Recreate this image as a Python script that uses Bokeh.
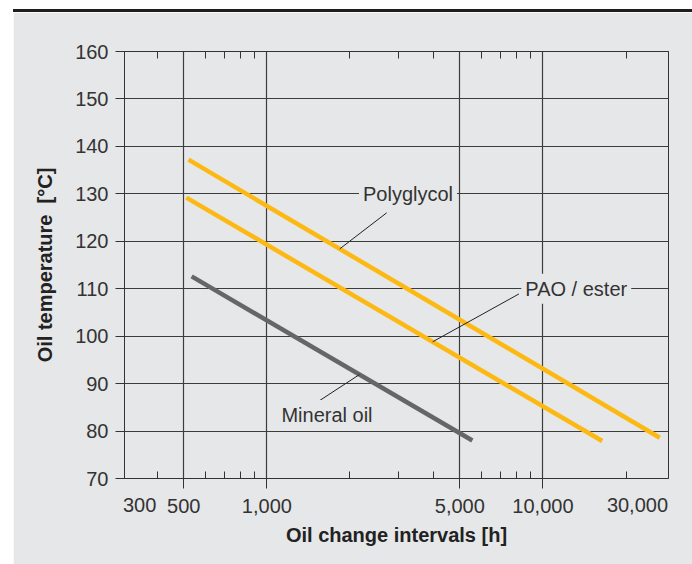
import numpy as np
from bokeh.plotting import figure
from bokeh.models import FixedTicker, LogAxis, Label, Range1d, Div, NumeralTickFormatter
from bokeh.layouts import column
from bokeh.embed import file_html
from bokeh.resources import INLINE

# ---------------- data ----------------
x_major_ticks = [500, 1000, 5000, 10000]
x_minor_ticks = [400, 600, 700, 800, 900, 2000, 3000, 4000, 6000, 7000, 8000, 9000, 20000]
x_edge_ticks = [300, 30000]
x_edge_labels = ["300", "30,000"]
y_ticks = [70, 80, 90, 100, 110, 120, 130, 140, 150, 160]

series_names = ["Polyglycol", "PAO / ester", "Mineral oil"]
polyglycol_hours = [520, 26500]
polyglycol_temp = [137.2, 78.6]
pao_hours = [511, 16400]
pao_temp = [129.2, 77.9]
mineral_hours = [534, 5550]
mineral_temp = [112.6, 78.0]

# annotation anchors: label position, leader start, leader target hours
label_hours = [3245, 8350, 1092]
label_temp = [130.0, 110.0, 83.4]
leader_start_hours = [2717, 8186, 1532]
leader_start_temp = [126.0, 108.9, 86.2]
leader_target_hours = [1836, 3986, 2165]

# ---------------- styles / layout ----------------
BG = "#e6e7e8"
ORANGE = "#fdb913"
GRAY_LINE = "#666666"
DARK = "#333333"
TEXT = "#333333"
FONT = "Liberation Sans"
FS = "20px"
# where the end labels "300" / "30,000" are centred (they sit inside the frame ends)
EDGE_LABEL_AT = {300: 346, 30000: 22000}

p = figure(width=679, height=552, x_axis_type="log",
           x_range=Range1d(305, 28500), y_range=Range1d(70, 160),
           output_backend="svg", toolbar_location=None,
           min_border_left=111, min_border_right=24, min_border_top=39, min_border_bottom=86,
           background_fill_color=BG, border_fill_color=BG, margin=(0, 0, 0, 13))

xt = FixedTicker(ticks=x_major_ticks, minor_ticks=x_minor_ticks)
yt = FixedTicker(ticks=y_ticks)

p.xaxis.ticker = xt
p.xaxis.formatter = NumeralTickFormatter(format="0,0")
p.xgrid.ticker = xt
p.yaxis.ticker = yt
p.ygrid.ticker = yt

for ax in p.xaxis:
    ax.major_tick_out = 10
    ax.major_tick_in = 0
    ax.minor_tick_in = 7
    ax.minor_tick_out = 0
    ax.major_label_standoff = 10
    ax.minor_tick_line_color = DARK

for ax in p.yaxis:
    ax.major_tick_out = 9
    ax.major_tick_in = 0
    ax.minor_tick_line_color = None
    ax.major_label_standoff = 7
    ax.axis_label = "Oil temperature\u00a0\u00a0[°C]"
    ax.axis_label_standoff = 16
    ax.axis_label_text_font = FONT
    ax.axis_label_text_font_size = FS
    ax.axis_label_text_font_style = "bold"
    ax.axis_label_text_color = "#222222"

for ax in list(p.xaxis) + list(p.yaxis):
    ax.axis_line_color = DARK
    ax.major_tick_line_color = DARK
    ax.major_label_text_font = FONT
    ax.major_label_text_font_size = FS
    ax.major_label_text_color = TEXT

# second bottom axis: only the end labels 300 / 30,000, pulled up into the tick-label row
edge_ticker = FixedTicker(ticks=[EDGE_LABEL_AT[v] for v in x_edge_ticks])
edge_axis = LogAxis(ticker=edge_ticker,
                    major_label_overrides={EDGE_LABEL_AT[v]: s for v, s in zip(x_edge_ticks, x_edge_labels)},
                    major_tick_line_color=None, minor_tick_line_color=None, axis_line_color=None,
                    major_tick_out=0, major_tick_in=0,
                    major_label_standoff=-18,
                    major_label_text_font=FONT, major_label_text_font_size=FS,
                    major_label_text_color=TEXT,
                    axis_label="Oil change intervals [h]", axis_label_standoff=9,
                    axis_label_text_font=FONT, axis_label_text_font_size=FS,
                    axis_label_text_font_style="bold", axis_label_text_color="#222222")
p.add_layout(edge_axis, "below")

# top axis: only the small inward ticks
top = LogAxis(ticker=FixedTicker(ticks=[], minor_ticks=x_minor_ticks),
              major_tick_out=0, major_tick_in=0, minor_tick_in=7, minor_tick_out=0,
              axis_line_color=DARK, minor_tick_line_color=DARK, major_tick_line_color=None)
p.add_layout(top, "above")

p.outline_line_color = DARK
p.outline_line_width = 1

p.xgrid.grid_line_color = "#3c3c3c"
p.ygrid.grid_line_color = "#3c3c3c"
p.xgrid.grid_line_width = 1.2
p.ygrid.grid_line_width = 1.2

# series
series = [(polyglycol_hours, polyglycol_temp, ORANGE),
          (pao_hours, pao_temp, ORANGE),
          (mineral_hours, mineral_temp, GRAY_LINE)]
for hrs, tmp, col in series:
    p.line(x=hrs, y=tmp, line_color=col, line_width=4.5)

# leaders + labels
for i, (hrs, tmp, col) in enumerate(series):
    lh = np.log10(hrs)
    tgt = leader_target_hours[i]
    tt = float(np.interp(np.log10(tgt), lh, tmp))
    p.segment(x0=[leader_start_hours[i]], y0=[leader_start_temp[i]], x1=[tgt], y1=[tt],
              line_color="#222222", line_width=1)
    align = "center" if i == 0 else "left"
    p.add_layout(Label(x=label_hours[i], y=label_temp[i], text=series_names[i],
                       text_align=align, text_baseline="middle",
                       text_font=FONT, text_font_size=FS, text_color=TEXT,
                       background_fill_color=BG, padding=4))

rule = Div(text="", width=679, height=3, margin=(9, 0, 0, 13),
           styles={"background-color": "#1e1e1e"})
layout = column(rule, p, spacing=0)

open("out.html", "w").write(file_html(layout, INLINE))
